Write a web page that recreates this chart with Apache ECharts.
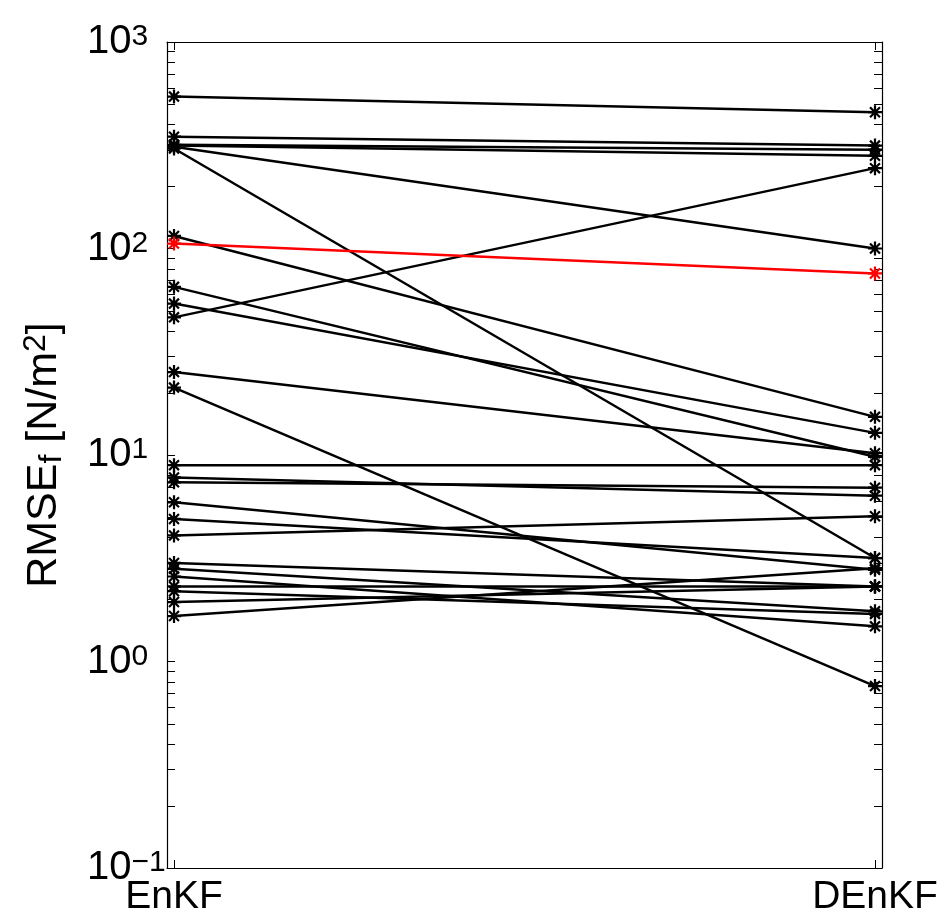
<!DOCTYPE html>
<html><head><meta charset="utf-8">
<script src="https://cdn.jsdelivr.net/npm/echarts@6/dist/echarts.min.js"></script>
<style>html,body{margin:0;padding:0;background:#fff}#c{width:944px;height:917px}</style>
</head><body><div id="c"></div>
<script>
// ---- data ----
const categories = ['EnKF', 'DEnKF'];
const enkfValues  = [544, 348, 318, 315, 311, 305, 115, 105.6, 65.2, 54.1, 46.4, 25.2, 21.2, 8.93, 7.79, 7.37, 5.9, 4.9, 4.08, 3.0, 2.81, 2.58, 2.31, 2.19, 1.94, 1.66];
const denkfValues = [457, 315, 301, 281, 100, 3.17, 15.3, 75.7, 9.8, 12.8, 245, 10.2, 0.76, 8.93, 6.35, 6.95, 2.78, 3.17, 5.05, 2.31, 1.75, 1.48, 2.31, 1.70, 2.31, 2.83];
const highlightIndex = 7;
const yMin = 0.1, yMax = 1000;
const minorTickValues = [0.2,0.3,0.4,0.5,0.6,0.7,0.8,0.9, 2,3,4,5,6,7,8,9, 20,30,40,50,60,70,80,90, 200,300,400,500,600,700,800,900];

// ---- chart ----
const FONT = 'Liberation Sans';
const asteriskBold = 'path://M42 0L58 0L58 100L42 100Z M0 42L100 42L100 58L0 58Z M9 20L20 9L91 80L80 91Z M80 9L91 20L20 91L9 80Z';

const series = [];
const order = enkfValues.map((_, i) => i).filter(i => i !== highlightIndex).concat([highlightIndex]);
order.forEach(i => {
  const color = i === highlightIndex ? '#ff0000' : '#000000';
  series.push({
    type: 'line',
    data: [[1, enkfValues[i]], [2, denkfValues[i]]],
    symbol: asteriskBold,
    symbolSize: 14,
    showSymbol: true,
    lineStyle: { color: color, width: 2.5 },
    itemStyle: { color: color },
    emphasis: { disabled: true },
    silent: true,
    animation: false,
    z: i === highlightIndex ? 5 : 3
  });
});

series.push({
  type: 'custom',
  data: minorTickValues.map(v => [1, v]),
  silent: true,
  animation: false,
  clip: false,
  z: 4,
  renderItem: function (params, api) {
    const y = Math.round(api.coord([1, api.value(1)])[1]) + 0.5;
    const cs = params.coordSys;
    const st = { stroke: '#000', lineWidth: 1 };
    return {
      type: 'group',
      children: [
        { type: 'line', shape: { x1: cs.x, y1: y, x2: cs.x + 8, y2: y }, style: st },
        { type: 'line', shape: { x1: cs.x + cs.width - 8, y1: y, x2: cs.x + cs.width, y2: y }, style: st }
      ]
    };
  }
});

const axisLine = { show: true, lineStyle: { color: '#000', width: 1.2 } };

const option = {
  backgroundColor: '#fff',
  animation: false,
  grid: { left: 167, right: 62, top: 42, bottom: 46, containLabel: false },
  xAxis: [
    {
      type: 'value', min: 0.99, max: 2.01, position: 'bottom',
      axisLine: axisLine,
      axisTick: { show: true, inside: true, length: 8, lineStyle: { color: '#000' }, customValues: [1, 2] },
      axisLabel: {
        show: true, customValues: [1, 2], color: '#000', fontFamily: FONT, fontSize: 39, margin: 10,
        formatter: v => categories[Math.round(v) - 1]
      },
      splitLine: { show: false }
    },
    {
      type: 'value', min: 0.99, max: 2.01, position: 'top',
      axisLine: axisLine,
      axisTick: { show: true, inside: true, length: 8, lineStyle: { color: '#000' }, customValues: [1, 2] },
      axisLabel: { show: false },
      splitLine: { show: false }
    }
  ],
  yAxis: [
    {
      type: 'log', logBase: 10, min: yMin, max: yMax, position: 'left',
      axisLine: axisLine,
      axisTick: { show: true, inside: true, length: 8, lineStyle: { color: '#000' } },
      splitLine: { show: false },
      minorTick: { show: false },
      axisLabel: {
        color: '#000', fontFamily: FONT, align: 'left', margin: 80,
        formatter: function (v) {
          const e = Math.round(Math.log10(v));
          const es = e < 0 ? '\u2212' + (-e) : String(e);
          return '{b|10}{s|' + es + '}';
        },
        rich: {
          b: { fontFamily: FONT, fontSize: 40, lineHeight: 40, padding: [10, 0, 0, 0], verticalAlign: 'bottom', color: '#000' },
          s: { fontFamily: FONT, fontSize: 30, lineHeight: 22, verticalAlign: 'top', color: '#000' }
        }
      },
      name: '{m|RMSE}{sub|f}{m| [N/m}{sup|2}{m|]}',
      nameLocation: 'middle',
      nameRotate: 90,
      nameGap: 99,
      nameTextStyle: {
        color: '#000', fontFamily: FONT, fontSize: 43,
        rich: {
          m: { fontFamily: FONT, fontSize: 43, lineHeight: 48, color: '#000' },
          sub: { fontFamily: FONT, fontSize: 32, lineHeight: 30, verticalAlign: 'bottom', color: '#000' },
          sup: { fontFamily: FONT, fontSize: 32, lineHeight: 30, verticalAlign: 'top', color: '#000' }
        }
      }
    },
    {
      type: 'log', logBase: 10, min: yMin, max: yMax, position: 'right',
      axisLine: axisLine,
      axisTick: { show: true, inside: true, length: 8, lineStyle: { color: '#000' } },
      axisLabel: { show: false },
      splitLine: { show: false }
    }
  ],
  series: series
};

const chart = echarts.init(document.getElementById('c'), null, { renderer: 'canvas' });
chart.setOption(option);
</script>
</body></html>
